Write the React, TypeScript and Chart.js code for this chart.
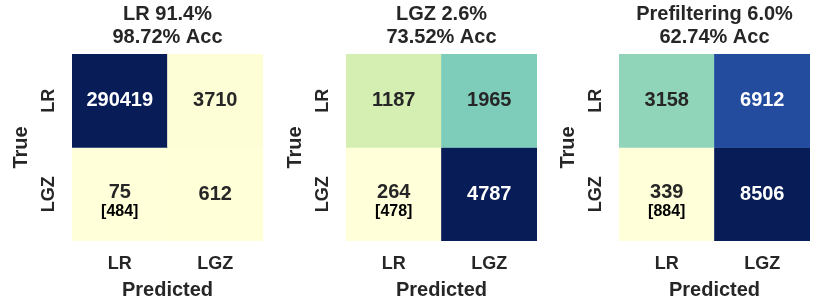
import React, { useEffect, useRef } from 'react';
import { Chart, registerables } from 'chart.js';
Chart.register(...registerables);

const classLabels = ['LR', 'LGZ'];
const panelNames = ['LR 91.4%', 'LGZ 2.6%', 'Prefiltering 6.0%'];
const panelAccuracies = ['98.72% Acc', '73.52% Acc', '62.74% Acc'];
const lrCounts = [[290419, 3710], [75, 612]];
const lgzCounts = [[1187, 1965], [264, 4787]];
const prefilterCounts = [[3158, 6912], [339, 8506]];
const bracketCounts = [484, 478, 884];

const YLGNBU = ['#ffffd9', '#edf8b1', '#c7e9b4', '#7fcdbb', '#41b6c4', '#1d91c0', '#225ea8', '#253494', '#081d58'];
const FONT = '"Liberation Sans", Arial, Helvetica, sans-serif';
const TEXT = '#262626';

function hexToRgb(h: string): number[] {
  return [parseInt(h.slice(1, 3), 16), parseInt(h.slice(3, 5), 16), parseInt(h.slice(5, 7), 16)];
}
function cmap(t: number): number[] {
  const tt = Math.max(0, Math.min(1, t)) * (YLGNBU.length - 1);
  const i = Math.min(Math.floor(tt), YLGNBU.length - 2);
  const f = tt - i;
  const a = hexToRgb(YLGNBU[i]);
  const b = hexToRgb(YLGNBU[i + 1]);
  return a.map((v, k) => v + (b[k] - v) * f);
}
function rgbStr(c: number[]): string {
  return `rgb(${Math.round(c[0])},${Math.round(c[1])},${Math.round(c[2])})`;
}
function luminance(c: number[]): number {
  const lin = c.map((v) => {
    const s = v / 255;
    return s <= 0.03928 ? s / 12.92 : Math.pow((s + 0.055) / 1.055, 2.4);
  });
  return 0.2126 * lin[0] + 0.7152 * lin[1] + 0.0722 * lin[2];
}

function Panel({ matrix, name, acc, note, left }: { matrix: number[][]; name: string; acc: string; note: number; left: number }) {
  const ref = useRef<HTMLCanvasElement>(null);
  useEffect(() => {
    const flat = matrix.flat();
    const vmin = Math.min(...flat);
    const vmax = Math.max(...flat);
    const colorOf = (v: number) => cmap((v - vmin) / (vmax - vmin));
    const datasets = matrix.map((row, r) => ({
      data: row.map(() => [r, r + 1]),
      backgroundColor: row.map((v) => rgbStr(colorOf(v))),
      borderWidth: 0,
      barPercentage: 1,
      categoryPercentage: 1,
      grouped: false,
    }));
    const annot = {
      id: 'cellText',
      afterDatasetsDraw(chart: any) {
        const ctx = chart.ctx;
        ctx.save();
        ctx.textAlign = 'center';
        ctx.textBaseline = 'middle';
        matrix.forEach((row, r) => {
          const meta = chart.getDatasetMeta(r);
          row.forEach((v, c) => {
            const el = meta.data[c];
            const cx = el.x;
            const cy = (el.y + el.base) / 2;
            const col = colorOf(v);
            ctx.fillStyle = luminance(col) > 0.408 ? TEXT : '#ffffff';
            const hasNote = r === 1 && c === 0;
            ctx.font = `bold 20px ${FONT}`;
            ctx.fillText(String(v), cx, hasNote ? cy - 2 : cy);
            if (hasNote) {
              ctx.font = `bold 16px ${FONT}`;
              ctx.fillStyle = '#000000';
              ctx.fillText(`[${note}]`, cx, cy + 17);
            }
          });
        });
        ctx.restore();
      },
    };
    const chart = new Chart(ref.current as HTMLCanvasElement, {
      type: 'bar',
      data: { labels: classLabels, datasets: datasets as any },
      options: {
        responsive: false,
        animation: false,
        layout: { padding: { left: 0, right: 13, top: 0, bottom: 0 } },
        plugins: {
          legend: { display: false },
          tooltip: { enabled: false },
          title: {
            display: true,
            text: [name, acc],
            fullSize: false,
            color: TEXT,
            font: { family: FONT, size: 20, weight: 'bold', lineHeight: 1.15 },
            padding: { top: 3, bottom: 5 },
          },
        },
        scales: {
          x: {
            type: 'category',
            offset: true,
            grid: { display: false, drawTicks: false },
            border: { display: false },
            ticks: { color: TEXT, font: { family: FONT, size: 18, weight: 'bold' }, padding: 12, maxRotation: 0, minRotation: 0 },
            title: { display: true, text: 'Predicted', color: TEXT, font: { family: FONT, size: 20, weight: 'bold' }, padding: { top: 0, bottom: 0 } },
            afterFit: (s: any) => { s.height = 61; },
          },
          y: {
            type: 'linear',
            min: 0,
            max: 2,
            reverse: true,
            grid: { display: false, drawTicks: false },
            border: { display: false },
            afterBuildTicks: (s: any) => { s.ticks = [{ value: 0.5 }, { value: 1.5 }]; },
            ticks: {
              callback: (v: any) => classLabels[Math.floor(Number(v))],
              minRotation: 90,
              maxRotation: 90,
              crossAlign: 'center',
              padding: 5,
              color: TEXT,
              font: { family: FONT, size: 18, weight: 'bold' },
            },
            title: { display: true, text: 'True', color: TEXT, font: { family: FONT, size: 20, weight: 'bold' }, padding: { top: 9, bottom: 0 } },
            afterFit: (s: any) => { s.width = 72; },
          },
        },
      } as any,
      plugins: [annot],
    });
    return () => chart.destroy();
  }, []);
  return <canvas ref={ref} width={276} height={302} style={{ position: 'absolute', left, top: 0 }} />;
}

export default function App() {
  const matrices = [lrCounts, lgzCounts, prefilterCounts];
  const lefts = [0, 274, 547];
  return (
    <div style={{ position: 'absolute', left: 0, top: 0, width: 830, height: 302, background: '#ffffff' }}>
      {matrices.map((m, i) => (
        <Panel key={i} matrix={m} name={panelNames[i]} acc={panelAccuracies[i]} note={bracketCounts[i]} left={lefts[i]} />
      ))}
    </div>
  );
}
